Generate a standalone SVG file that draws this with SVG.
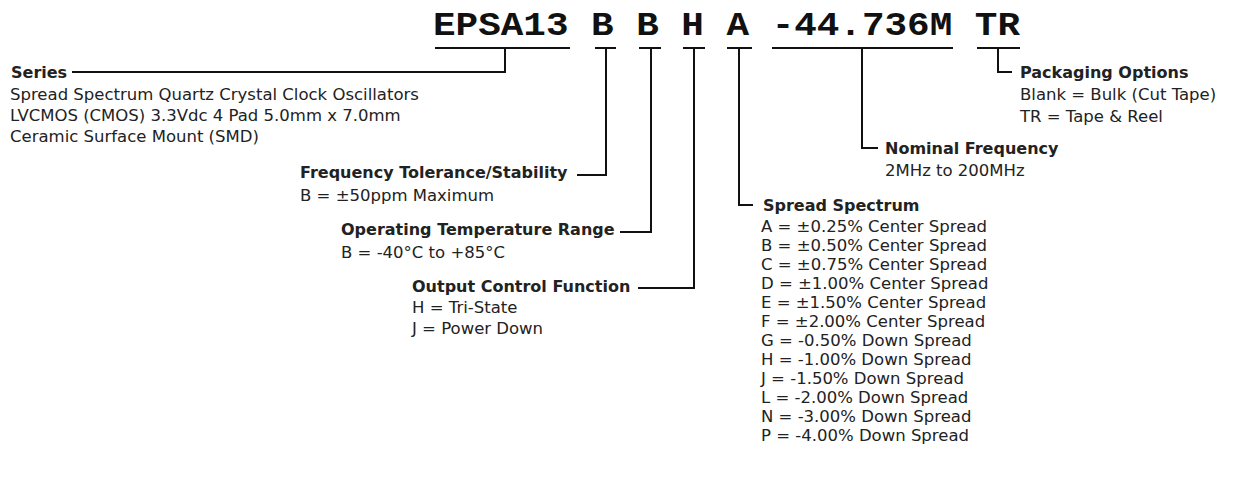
<svg xmlns="http://www.w3.org/2000/svg" width="1233" height="477" viewBox="0 0 1233 477">
<style>
.title{font-family:"Liberation Mono","Courier New",monospace;font-weight:bold;font-size:34px;fill:#111}
.h{font-family:"DejaVu Sans","Liberation Sans",sans-serif;font-weight:bold;font-size:16px;fill:#222}
.t{font-family:"DejaVu Sans","Liberation Sans",sans-serif;font-size:16.5px;fill:#222}
.c{fill:none;stroke:#111;stroke-width:2}
</style>
<rect width="1233" height="477" fill="#fff"/>
<g id="title"><text class="title" x="433" y="35" textLength="587" lengthAdjust="spacingAndGlyphs">EPSA13 B B H A -44.736M TR</text></g>
<g id="connectors">
<path class="c" d="M435 48H570M505 48V72H72"/>
<path class="c" d="M595 48H616M606 48V175H577"/>
<path class="c" d="M639 48H661M651 48V232H620"/>
<path class="c" d="M683 48H705M694 48V288H638"/>
<path class="c" d="M727 48H752M739 48V205H753"/>
<path class="c" d="M772 48H953M862 48V148H878"/>
<path class="c" d="M977 48H1020M998 48V72H1012"/>
</g>
<g id="series"><text class="h" x="11" y="78">Series</text>
<text class="t" x="10" y="100">Spread Spectrum Quartz Crystal Clock Oscillators</text>
<text class="t" x="10" y="121">LVCMOS (CMOS) 3.3Vdc 4 Pad 5.0mm x 7.0mm</text>
<text class="t" x="10" y="142">Ceramic Surface Mount (SMD)</text></g>
<g id="tolerance"><text class="h" x="300" y="178">Frequency Tolerance/Stability</text>
<text class="t" x="300" y="201">B = ±50ppm Maximum</text></g>
<g id="temperature"><text class="h" x="341" y="235">Operating Temperature Range</text>
<text class="t" x="341" y="258">B = -40°C to +85°C</text></g>
<g id="output"><text class="h" x="412" y="292">Output Control Function</text>
<text class="t" x="412" y="313">H = Tri-State</text>
<text class="t" x="412" y="334">J = Power Down</text></g>
<g id="spread"><text class="h" x="763" y="211">Spread Spectrum</text>
<text class="t" x="761" y="232">A = ±0.25% Center Spread</text>
<text class="t" x="761" y="251">B = ±0.50% Center Spread</text>
<text class="t" x="761" y="270">C = ±0.75% Center Spread</text>
<text class="t" x="761" y="289">D = ±1.00% Center Spread</text>
<text class="t" x="761" y="308">E = ±1.50% Center Spread</text>
<text class="t" x="761" y="327">F = ±2.00% Center Spread</text>
<text class="t" x="761" y="346">G = -0.50% Down Spread</text>
<text class="t" x="761" y="365">H = -1.00% Down Spread</text>
<text class="t" x="761" y="384">J = -1.50% Down Spread</text>
<text class="t" x="761" y="403">L = -2.00% Down Spread</text>
<text class="t" x="761" y="422">N = -3.00% Down Spread</text>
<text class="t" x="761" y="441">P = -4.00% Down Spread</text></g>
<g id="frequency"><text class="h" x="885" y="154">Nominal Frequency</text>
<text class="t" x="885" y="176">2MHz to 200MHz</text></g>
<g id="packaging"><text class="h" x="1020" y="78">Packaging Options</text>
<text class="t" x="1020" y="100">Blank = Bulk (Cut Tape)</text>
<text class="t" x="1020" y="122">TR = Tape &amp; Reel</text></g>
</svg>
